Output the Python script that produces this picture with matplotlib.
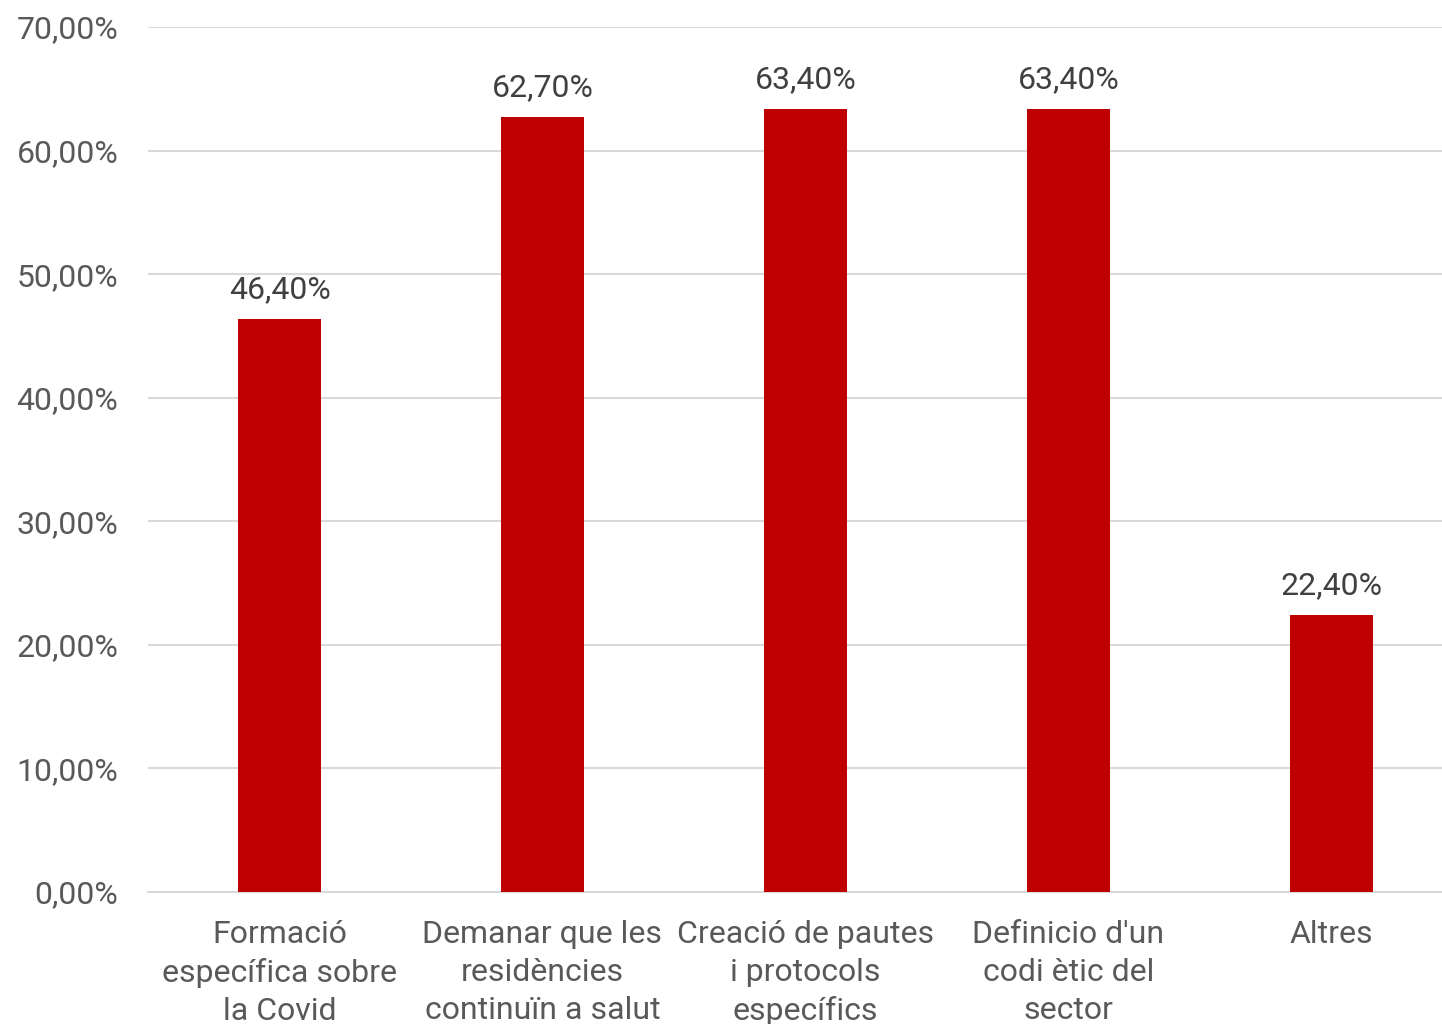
import matplotlib.pyplot as plt
from matplotlib.ticker import FuncFormatter

plt.rcParams['font.family'] = ['Roboto', 'DejaVu Sans']

# Data
categories = [
    "Formació\nespecífica sobre\nla Covid",
    "Demanar que les\nresidències\ncontinuïn a salut",
    "Creació de pautes\ni protocols\nespecífics",
    "Definicio d'un\ncodi ètic del\nsector",
    "Altres",
]
values = [46.4, 62.7, 63.4, 63.4, 22.4]
yticks = [0, 10, 20, 30, 40, 50, 60, 70]

fig = plt.figure(figsize=(14.42, 10.24), dpi=100)
ax = fig.add_axes([148 / 1442, 1 - 892 / 1024, 1315 / 1442, 865 / 1024])

x = range(len(categories))
bars = ax.bar(x, values, width=0.315, color='#c00000', zorder=3)

for xi, v in zip(x, values):
    ax.text(xi, v + 1.2, f"{v:.2f}".replace('.', ',') + "%", ha='center', va='bottom',
            fontsize=23, color='#404040')

ax.set_xlim(-0.5, len(categories) - 0.5)
ax.set_ylim(0, 70)
ax.set_yticks(yticks)
ax.yaxis.set_major_formatter(FuncFormatter(lambda v, p: f"{v:.2f}".replace('.', ',') + "%"))
ax.set_xticks(list(x))
ax.set_xticklabels(categories, fontsize=23, color='#595959', linespacing=1.39, va='top')
ax.tick_params(axis='y', labelsize=23, labelcolor='#595959', length=0, pad=21.5)
ax.tick_params(axis='x', length=0, pad=20)
ax.grid(axis='y', color='#d9d9d9', linewidth=1.5, zorder=0)
for s in ['top', 'right', 'left']:
    ax.spines[s].set_visible(False)
ax.spines['bottom'].set_color('#d9d9d9')
ax.spines['bottom'].set_linewidth(1.5)

fig.savefig('out.png', dpi=100)
